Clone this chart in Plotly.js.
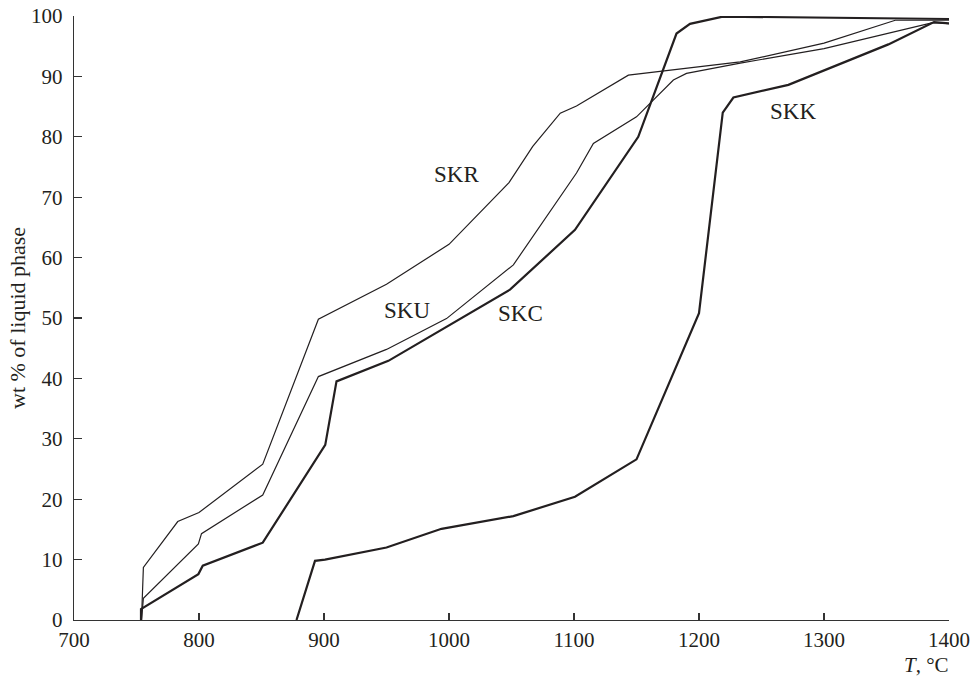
<!DOCTYPE html>
<html>
<head>
<meta charset="utf-8">
<script src="https://cdn.plot.ly/plotly-3.0.1.min.js"></script>
<style>html,body{margin:0;padding:0;background:#fff;}#chart{width:980px;height:686px;}</style>
</head>
<body>
<div id="chart"></div>
<script>
// Temperature (°C) and wt % of liquid phase for each sample
const skrT = [754, 755.5, 783, 800, 851, 895.5, 950, 1000, 1048, 1067, 1089, 1102, 1143.5, 1182, 1233, 1300, 1357, 1400];
const skrY = [0, 8.7, 16.3, 17.8, 25.8, 49.8, 55.6, 62.2, 72.4, 78.4, 83.9, 85.1, 90.2, 91.1, 92.4, 95.5, 99.3, 99.3];

const skuT = [754, 755.5, 799.5, 802, 851, 895.5, 950, 998, 1051.5, 1102, 1115.5, 1150, 1179.5, 1190, 1233, 1300, 1387, 1400];
const skuY = [0, 3.6, 12.6, 14.3, 20.7, 40.3, 44.8, 49.9, 58.8, 74.0, 78.9, 83.3, 89.4, 90.5, 92.2, 94.6, 98.9, 98.7];

const skcT = [753.6, 753.6, 799.5, 803, 851, 901, 910, 951.5, 1048.8, 1100.8, 1151.4, 1182, 1192.8, 1219, 1400];
const skcY = [0, 1.8, 7.6, 9.0, 12.8, 29.0, 39.5, 42.9, 54.7, 64.6, 80.0, 97.1, 98.7, 99.9, 99.5];

const skkT = [878, 892.8, 900.8, 950, 994, 1051.5, 1100.8, 1150, 1200, 1219, 1227.5, 1271.5, 1351.5, 1388, 1400];
const skkY = [0, 9.8, 10.0, 12.0, 15.1, 17.2, 20.4, 26.6, 50.8, 84.0, 86.5, 88.6, 95.3, 99.0, 98.8];

const seriesNames = ["SKR", "SKU", "SKC", "SKK"];
const labelT = [1006, 966, 1057, 1275];
const labelY = [73.7, 51.2, 50.8, 84.2];

const xTicks = [700, 800, 900, 1000, 1100, 1200, 1300, 1400];
const yTicks = [0, 10, 20, 30, 40, 50, 60, 70, 80, 90, 100];

const ink = "#231f20";
const serif = "Liberation Serif, Times New Roman, serif";

const traces = [
  {x: skrT, y: skrY, w: 1.2},
  {x: skuT, y: skuY, w: 1.2},
  {x: skcT, y: skcY, w: 2.2},
  {x: skkT, y: skkY, w: 2.2}
].map((s, i) => ({
  x: s.x, y: s.y, name: seriesNames[i], type: "scatter", mode: "lines",
  line: {color: ink, width: s.w}, hoverinfo: "skip"
}));

const annotations = seriesNames.map((n, i) => ({
  x: labelT[i], y: labelY[i], xref: "x", yref: "y", text: n, showarrow: false,
  font: {family: serif, size: 23, color: ink}
}));
annotations.push({
  xref: "paper", yref: "paper", x: 0, y: 0.5, xanchor: "center", yanchor: "middle", xshift: -57,
  text: "wt % of liquid phase",
  textangle: -90, showarrow: false, font: {family: serif, size: 22, color: ink}
});
annotations.push({
  xref: "paper", yref: "paper", x: 1, y: 0, xanchor: "right", yanchor: "middle", yshift: -45, xshift: 2,
  text: "<i>T</i>, °C", showarrow: false, font: {family: serif, size: 21, color: ink}
});

const layout = {
  width: 980, height: 686,
  margin: {l: 74, r: 31, t: 16, b: 66},
  paper_bgcolor: "#fff", plot_bgcolor: "#fff",
  showlegend: false,
  xaxis: {
    range: [700, 1400], tickvals: xTicks, ticktext: xTicks.map(String),
    showgrid: false, zeroline: false, showline: true, linecolor: "#333", linewidth: 1.2,
    ticks: "inside", ticklen: 7, tickcolor: "#333", tickwidth: 1.2,
    tickfont: {family: serif, size: 21, color: ink}, ticklabelstandoff: 1
  },
  yaxis: {
    range: [0, 100], tickvals: yTicks, ticktext: yTicks.map(String),
    showgrid: false, zeroline: false, showline: true, linecolor: "#333", linewidth: 1.2,
    ticks: "inside", ticklen: 8, tickcolor: "#333", tickwidth: 1.2,
    tickfont: {family: serif, size: 21, color: ink}, ticklabelstandoff: 6
  },
  annotations: annotations
};

Plotly.newPlot("chart", traces, layout, {staticPlot: true, displayModeBar: false});
</script>
</body>
</html>
